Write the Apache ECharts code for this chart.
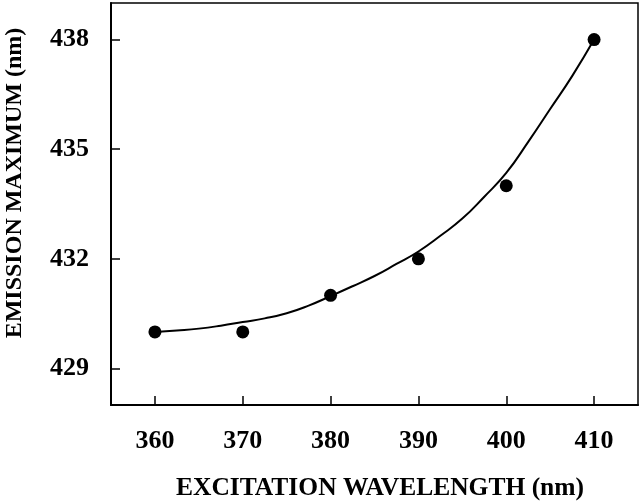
<!DOCTYPE html>
<html>
<head>
<meta charset="utf-8">
<script src="https://cdn.jsdelivr.net/npm/echarts@6/dist/echarts.min.js"></script>
<style>
  html, body { margin: 0; padding: 0; background: #fff; }
  #chart { width: 640px; height: 502px; }
</style>
</head>
<body>
<div id="chart"></div>
<script>
// measured points
var excitation = [360, 370, 380, 390, 400, 410];
var emission = [430, 430, 431, 432, 434, 438];

// fitted curve
var fitX = [360, 362.5, 365, 367.5, 370, 372.5, 375, 377.5, 380, 382.5, 385, 387.5, 390, 392.5, 395, 397.5, 400, 402.5, 405, 407.5, 410];
var fitY = [430.00, 430.04, 430.09, 430.17, 430.27, 430.37, 430.51, 430.72, 430.98, 431.25, 431.53, 431.86, 432.2, 432.63, 433.1, 433.7, 434.35, 435.2, 436.1, 437.0, 438.0];

var xTicks = [360, 370, 380, 390, 400, 410];
var yTicks = [429, 432, 435, 438];

var font = '"Liberation Serif", "Times New Roman", serif';

var chart = echarts.init(document.getElementById('chart'));

var option = {
  animation: false,
  grid: {
    left: 111, right: 2, top: 3, bottom: 97,
    outerBoundsMode: 'none',
    containLabel: false,
    show: true,
    borderColor: '#000',
    borderWidth: 1.5,
    backgroundColor: '#fff'
  },
  xAxis: {
    type: 'value',
    min: 355,
    max: 415,
    name: 'EXCITATION WAVELENGTH (nm)',
    nameLocation: 'middle',
    nameGap: 70,
    nameTextStyle: { fontFamily: font, fontWeight: 'bold', fontSize: 25.5, color: '#000', padding: [0, 0, 0, 11] },
    axisLine: { show: true, lineStyle: { color: '#000', width: 2 } },
    axisTick: { show: true, inside: true, length: 9, customValues: xTicks, lineStyle: { color: '#000', width: 1.5 } },
    axisLabel: { customValues: xTicks, margin: 23, fontFamily: font, fontWeight: 'bold', fontSize: 26, color: '#000' },
    splitLine: { show: false }
  },
  yAxis: {
    type: 'value',
    min: 428,
    max: 439,
    name: 'EMISSION MAXIMUM (nm)',
    nameLocation: 'middle',
    nameGap: 84,
    nameTextStyle: { fontFamily: font, fontWeight: 'bold', fontSize: 24, color: '#000', padding: [0, 0, 0, 42] },
    axisLine: { show: true, lineStyle: { color: '#000', width: 2 } },
    axisTick: { show: true, inside: true, length: 9, customValues: yTicks, lineStyle: { color: '#000', width: 1.5 } },
    axisLabel: { customValues: yTicks, margin: 22, fontFamily: font, fontWeight: 'bold', fontSize: 26, color: '#000' },
    splitLine: { show: false }
  },
  series: [
    {
      name: 'fit',
      type: 'line',
      smooth: true,
      showSymbol: false,
      lineStyle: { color: '#000', width: 2 },
      data: fitX.map(function (x, i) { return [x, fitY[i]]; })
    },
    {
      name: 'data',
      type: 'scatter',
      symbol: 'circle',
      symbolSize: 13,
      itemStyle: { color: '#000', opacity: 1 },
      data: excitation.map(function (x, i) { return [x, emission[i]]; })
    }
  ]
};

chart.setOption(option);
</script>
</body>
</html>
